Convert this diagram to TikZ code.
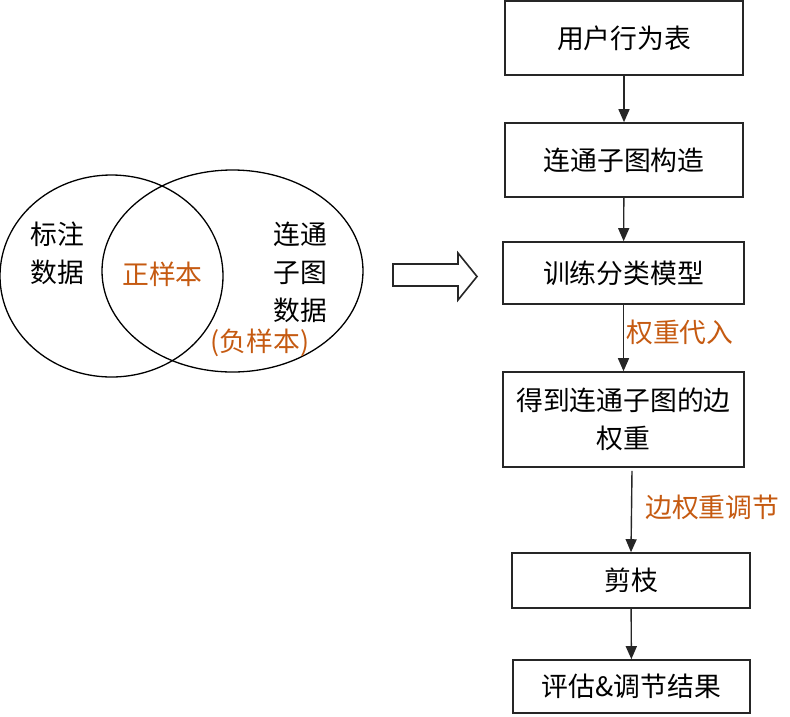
\documentclass[tikz,border=0pt]{standalone}
\usepackage{fontspec}
\setmainfont{Noto Sans CJK SC}
\usepackage{xcolor}
\usetikzlibrary{arrows.meta,calc}
\definecolor{weightorange}{HTML}{C55A11}
\tikzset{>={Triangle[width=11pt,length=13pt]},
    stepbox/.style={draw=black!85, line width=1.6pt, minimum width=238pt, inner sep=0pt},
    flow/.style={->, line width=1.4pt, draw=black!85},
    note/.style={text=weightorange, anchor=west, inner sep=0pt},
    setline/.style={draw=black, line width=1.3pt}}

\begin{document}
\begin{tikzpicture}[x=1pt, y=-1pt, font=\fontsize{26.8}{38}\selectfont]
    \useasboundingbox (0,0) rectangle (790,716);
    % venn of the two data sets
    \draw[setline] (111.5,276) ellipse [x radius=111.5, y radius=101];
    \draw[setline] (232.5,271) ellipse [x radius=130.5, y radius=101];
    \node[align=center, inner sep=0pt] (labeled) at (57.5,253) {标注\\数据};
    \node[align=center, inner sep=0pt] (subgraph) at (300.5,272.5) {连通\\子图\\数据};
    \node[text=weightorange, inner sep=0pt] (positive) at (162.5,274) {正样本};
    \node[text=weightorange, inner sep=0pt] (negative) at (260,343) {(负样本)};
    % hollow arrow
    \draw[line width=1.6pt, draw=black!85, line join=miter]
      (393,264) -- (458,264) -- (458,253) -- (477,276.5) -- (458,300) -- (458,286) -- (393,286) -- cycle;
    % flow chart
    \node[stepbox, minimum height=74pt] (table) at (624,38) {用户行为表};
    \node[stepbox, minimum height=74pt] (build) at (624,160) {连通子图构造};
    \node[stepbox, minimum height=62pt, minimum width=241pt] (train) at (623.5,273) {训练分类模型};
    \node[stepbox, minimum height=95pt, minimum width=241pt, align=center] (weight) at (623.5,419.5) {得到连通子图的边\\权重};
    \node[stepbox, minimum height=55pt] (prune) at (631,580.5) {剪枝};
    \node[stepbox, minimum height=53pt, minimum width=237pt] (result) at (631.5,686.5) {评估\&调节结果};
    \draw[flow] (table) -- (build);
    \draw[flow] (build) -- (train);
    \draw[flow] (train) -- (weight) node[note, pos=0.41, xshift=2pt] {权重代入};
    \draw[flow] ($(weight.south -| prune)+(1,3)$) -- (prune.north) node[note, pos=0.45, xshift=13pt] {边权重调节};
    \draw[flow] (prune) -- (result);
\end{tikzpicture}
\end{document}
